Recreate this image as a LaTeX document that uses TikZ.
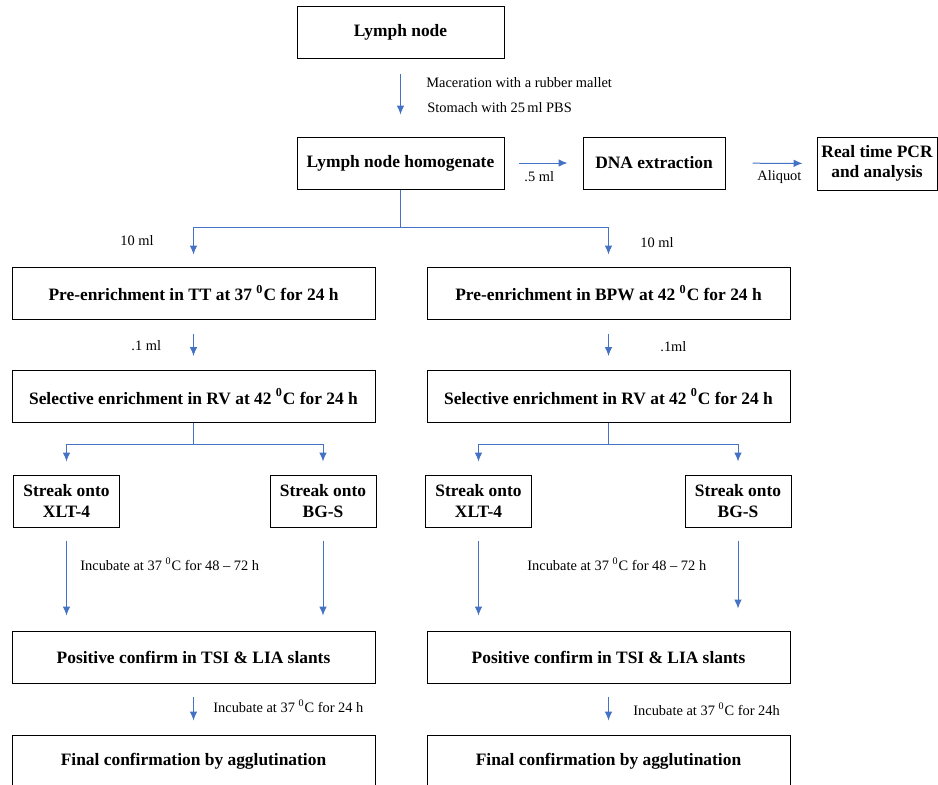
\documentclass[tikz,border=0pt]{standalone}
\usepackage{fontspec}
\setmainfont{Liberation Serif}
\usetikzlibrary{arrows.meta}
\definecolor{flowblue}{RGB}{68,114,196}
\tikzset{
  box/.style={draw, line width=0.5pt, align=center, inner sep=2pt, minimum height=26pt,
    font=\bfseries\fontsize{8.7}{10.3}\selectfont},
  wide/.style={box, minimum width=181.5pt},
  streak/.style={box, minimum width=53pt},
  note/.style={anchor=west, inner sep=0pt, font=\fontsize{7.2}{8.6}\selectfont},
  link/.style={draw=flowblue, line width=0.5pt},
  flow/.style={link, -{Latex[length=4.5pt,width=3.8pt]}}
}

\begin{document}
\begin{tikzpicture}[x=0.5pt,y=-0.5pt]
\useasboundingbox (0,0) rectangle (938,784);

 \node[box, minimum width=103.5pt] (lymph) at (400.5,32.5) {Lymph node};
 \node[box, minimum width=103.5pt] (homog) at (400.5,163) {Lymph node homogenate};
 \node[box, minimum width=71pt] (dna) at (654,163) {DNA extraction};
 \node[box, minimum width=60pt, minimum height=26.5pt] (pcr) at (877,163.5) {Real time PCR\\and analysis};

 \draw[flow, shorten <=7.5pt, shorten >=11pt] (lymph) -- (homog);
 \node[note] (mac) at (426,83) {Maceration with a rubber mallet};
 \node[note] (stom) at (427,108) {Stomach with 25\,ml PBS};

 \draw[flow, shorten <=7pt, shorten >=7.5pt] (homog) -- (dna);
 \node[note] (half) at (524,177) {.5 ml};
 \draw[flow, shorten <=13.5pt, shorten >=7pt] (dna) -- (pcr);
 \node[note] (aliq) at (757,177) {Aliquot};

 % two enrichment routes
 \node[wide] (preL) at (193.5,293) {Pre-enrichment in TT at 37 \textsuperscript{0}C for 24 h};
 \node[wide] (preR) at (608.5,293) {Pre-enrichment in BPW at 42 \textsuperscript{0}C for 24 h};
 \coordinate (split) at (400.5,227);
 \draw[link] (homog.south) -- (split);
 \draw[flow, shorten >=6pt] (split) -| (preL.north);
 \draw[flow, shorten >=6pt] (split) -| (preR.north);
 \node[note] (tenL) at (120,241) {10 ml};
 \node[note] (tenR) at (640,243) {10 ml};

 \node[wide] (selL) at (193.5,396.5) {Selective enrichment in RV at 42 \textsuperscript{0}C for 24 h};
 \node[wide] (selR) at (608.5,396.5) {Selective enrichment in RV at 42 \textsuperscript{0}C for 24 h};
 \draw[flow, shorten <=7pt, shorten >=7pt] (preL) -- (selL);
 \draw[flow, shorten <=7pt, shorten >=7pt] (preR) -- (selR);
 \node[note] (oneL) at (131,346) {.1 ml};
 \node[note] (oneR) at (660,347) {.1ml};

 \node[streak] (xltL) at (66.5,501) {Streak onto\\XLT-4};
 \node[streak] (bgsL) at (323,501) {Streak onto\\BG-S};
 \node[streak] (xltR) at (478.5,501) {Streak onto\\XLT-4};
 \node[streak] (bgsR) at (738,501) {Streak onto\\BG-S};
 \coordinate (forkL) at (193.5,444);
 \coordinate (forkR) at (608.5,444);
 \draw[link] (selL.south) -- (forkL);
 \draw[link] (selR.south) -- (forkR);
 \draw[flow, shorten >=6.5pt] (forkL) -| (xltL.north);
 \draw[flow, shorten >=6.5pt] (forkL) -| (bgsL.north);
 \draw[flow, shorten >=6.5pt] (forkR) -| (xltR.north);
 \draw[flow, shorten >=6.5pt] (forkR) -| (bgsR.north);

 \node[wide] (posL) at (193.5,657) {Positive confirm in TSI \& LIA slants};
 \node[wide] (posR) at (608.5,657) {Positive confirm in TSI \& LIA slants};
 \draw[flow, shorten <=6.5pt, shorten >=7.5pt] (xltL.south) -- (xltL.south |- posL.north);
 \draw[flow, shorten <=6.5pt, shorten >=7.5pt] (bgsL.south) -- (bgsL.south |- posL.north);
 \draw[flow, shorten <=6.5pt, shorten >=7.5pt] (xltR.south) -- (xltR.south |- posR.north);
 \draw[flow, shorten <=6.5pt, shorten >=11pt] (bgsR.south) -- (bgsR.south |- posR.north);
 \node[note] (incL) at (80,564) {Incubate at 37 \textsuperscript{0}C for 48 -- 72 h};
 \node[note] (incR) at (527,564) {Incubate at 37 \textsuperscript{0}C for 48 -- 72 h};

 \node[wide] (finL) at (193.5,761) {Final confirmation by agglutination};
 \node[wide] (finR) at (608.5,761) {Final confirmation by agglutination};
 \draw[flow, shorten <=6.5pt, shorten >=7pt] (posL) -- (finL);
 \draw[flow, shorten <=6.5pt, shorten >=7pt] (posR) -- (finR);
 \node[note] (dayL) at (213,706) {Incubate at 37 \textsuperscript{0}C for 24 h};
 \node[note] (dayR) at (633,709) {Incubate at 37 \textsuperscript{0}C for 24h};
\end{tikzpicture}
\end{document}
